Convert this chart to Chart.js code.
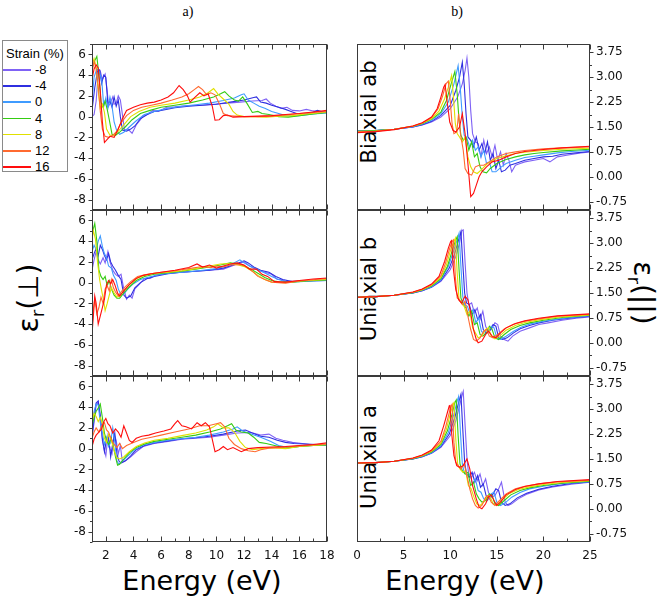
<!DOCTYPE html>
<html><head><meta charset="utf-8">
<script src="https://cdn.jsdelivr.net/npm/chart.js@4"></script>
<style>
body{margin:0;background:#fff;width:661px;height:599px;position:relative;overflow:hidden;font-family:"DejaVu Sans",sans-serif;color:#000}
canvas{position:absolute;left:0;top:0}
.t{position:absolute;white-space:nowrap;line-height:1}
.rot{transform:translate(-50%,-50%) rotate(-90deg)}
.rotr{transform:translate(-50%,-50%) rotate(90deg)}
.ctr{transform:translate(-50%,-50%)}
#legend{position:absolute;left:2px;top:40px;width:66px;height:132px;border:1px solid #8a8a8a;box-sizing:border-box;background:#fff}
#legend .ttl{position:absolute;left:3px;top:5px;font:13px "Liberation Sans",sans-serif}
#legend .row{position:absolute;left:0;height:14px;width:64px}
#legend .ln{position:absolute;left:0;top:7px;width:28px;height:1.5px}
#legend .lab{position:absolute;left:32px;top:0;font:13px "Liberation Sans",sans-serif}
</style></head><body>
<div id="legend"><div class="ttl">Strain (%)</div></div>
<div class="t ctr" style="left:188px;top:12px;font:14px 'Liberation Serif',serif">a)</div>
<div class="t ctr" style="left:457px;top:12px;font:14px 'Liberation Serif',serif">b)</div>
<div class="t ctr" style="left:202px;top:580px;font-size:27px">Energy (eV)</div>
<div class="t ctr" style="left:465px;top:580px;font-size:27px">Energy (eV)</div>
<div class="t rot" style="left:31px;top:298px;font-size:28px">ε<sub style="font-size:18px">r</sub>(⊥)</div>
<div class="t rotr" style="left:641px;top:293px;font-size:28px">ε<sub style="font-size:18px">r</sub>(||)</div>
<div class="t rot" style="left:369px;top:112px;font-size:21px">Biaxial ab</div>
<div class="t rot" style="left:369px;top:289px;font-size:21px">Uniaxial b</div>
<div class="t rot" style="left:369px;top:457px;font-size:21px">Uniaxial a</div>
<script>
// ---------------- DATA ----------------
const strains = [-8, -4, 0, 4, 8, 12, 16];
const leftXTicks = [2, 4, 6, 8, 10, 12, 14, 16, 18];
const leftYTicks = [-8, -6, -4, -2, 0, 2, 4, 6];
const rightXTicks = [0, 5, 10, 15, 20, 25];
const rightYTicks = [-0.75, 0, 0.75, 1.5, 2.25, 3, 3.75];
const panelNames = ['Biaxial ab', 'Uniaxial b', 'Uniaxial a'];

// eps_r(perp), biaxial ab strain; curves in order of strains
const perpBiaxialAB = [
 [[1.0,0.0],[1.15,0.2],[1.3,1.5],[1.45,4.2],[1.6,4.4],[1.75,3.6],[1.95,4.1],[2.1,2.5],[2.2,1.0],[2.35,1.4],[2.5,1.9],[2.6,1.2],[2.75,1.3],[2.9,2.0],[3.05,1.6],[3.2,0.2],[3.35,-1.3],[3.6,-1.2],[3.9,-1.6],[4.2,-0.8],[4.5,-0.3],[4.7,0.1],[5.0,0.2],[5.4,0.6],[5.8,0.5],[6.4,0.9],[7.0,0.95],[7.8,1.05],[8.8,1.1],[9.8,1.2],[10.8,1.3],[11.7,1.4],[12.6,1.5],[13.3,1.55],[13.6,1.7],[13.9,1.3],[14.3,1.0],[14.7,0.8],[15.1,0.9],[15.5,0.6],[16,0.55],[16.5,0.7],[17,0.55],[17.5,0.5],[18,0.4]],
 [[1.0,0.6],[1.2,2.8],[1.4,4.4],[1.55,4.5],[1.7,3.2],[1.85,4.0],[2.0,3.8],[2.15,1.2],[2.3,1.5],[2.45,0.9],[2.6,1.9],[2.75,1.0],[2.9,1.6],[3.05,0.0],[3.2,-1.3],[3.5,-1.4],[3.8,-1.2],[4.1,-0.9],[4.5,-0.2],[5.0,0.2],[5.5,0.5],[6,0.6],[7,0.85],[8,1.0],[9,1.1],[10,1.2],[11,1.4],[12,1.6],[12.7,1.85],[12.9,1.9],[13.2,1.4],[13.6,1.3],[14,1.1],[14.5,0.9],[15,0.7],[15.4,0.5],[15.8,0.3],[16.3,0.2],[16.8,0.3],[17.3,0.6],[18,0.35]],
 [[1.0,1.5],[1.15,3.8],[1.35,4.6],[1.5,4.4],[1.7,3.6],[1.85,1.0],[2.0,1.8],[2.15,0.8],[2.3,1.9],[2.45,1.0],[2.6,-0.5],[2.8,-1.4],[3.0,-1.7],[3.3,-1.5],[3.7,-1.0],[4.2,-0.4],[4.8,0.2],[5.5,0.5],[6.5,0.8],[7.5,1.0],[8.5,1.15],[9.5,1.3],[10.5,1.55],[11.3,1.8],[11.8,2.1],[12.0,2.2],[12.3,1.6],[12.7,1.3],[13.1,1.0],[13.5,0.8],[14,0.5],[14.5,0.3],[15,0.1],[15.5,0.05],[16,0.1],[17,0.25],[18,0.35]],
 [[1.0,4.6],[1.2,5.4],[1.35,5.8],[1.5,4.0],[1.65,1.4],[1.8,0.9],[1.95,1.5],[2.1,0.7],[2.25,-0.3],[2.45,-1.7],[2.7,-1.8],[3.0,-1.5],[3.4,-1.0],[3.9,-0.3],[4.5,0.3],[5.2,0.6],[6,0.9],[7,1.1],[8,1.3],[9,1.6],[9.8,1.9],[10.3,2.2],[10.6,2.4],[10.9,2.0],[11.3,1.6],[11.6,1.5],[11.9,1.9],[12.2,1.3],[12.6,0.4],[13.0,0.5],[13.3,0.3],[13.8,0.2],[14.5,0.0],[15.2,-0.05],[16,0.1],[17,0.25],[18,0.4]],
 [[1.0,4.9],[1.15,5.6],[1.3,4.8],[1.45,2.5],[1.6,0.8],[1.75,1.2],[1.9,0.4],[2.05,-1.2],[2.3,-1.8],[2.6,-1.8],[2.9,-1.4],[3.3,-0.8],[3.8,0.0],[4.4,0.5],[5.2,0.9],[6,1.1],[7,1.3],[8,1.6],[8.8,1.9],[9.4,2.3],[9.8,2.7],[10.1,2.2],[10.5,1.7],[10.9,1.2],[11.2,0.5],[11.5,0.15],[12,0.0],[12.8,0.0],[13.6,-0.05],[14.5,0.05],[15.5,0.1],[16.5,0.25],[18,0.45]],
 [[1.0,4.3],[1.15,5.3],[1.3,4.6],[1.45,3.0],[1.6,0.5],[1.75,-1.2],[1.95,-1.9],[2.2,-2.0],[2.5,-1.8],[2.8,-1.4],[3.1,-0.6],[3.5,0.1],[4.0,0.6],[4.6,0.9],[5.3,1.1],[6.0,1.3],[6.8,1.6],[7.5,1.9],[8.0,2.2],[8.4,2.6],[8.7,2.9],[9.0,2.6],[9.3,2.1],[9.6,2.3],[9.9,2.1],[10.2,1.3],[10.5,0.3],[10.8,0.1],[11.3,0.05],[12,0.0],[13,0.0],[14,0.05],[15,0.15],[16,0.3],[17,0.4],[18,0.5]],
 [[1.0,3.6],[1.15,4.6],[1.3,5.0],[1.45,4.7],[1.6,2.5],[1.75,-0.5],[1.9,-2.5],[2.1,-2.2],[2.3,-1.9],[2.6,-2.0],[2.9,-1.2],[3.2,-0.2],[3.5,0.6],[4.0,0.9],[4.5,1.15],[5.0,1.3],[5.5,1.4],[6.0,1.6],[6.5,1.9],[6.9,2.3],[7.3,3.0],[7.6,2.6],[7.9,2.0],[8.1,1.4],[8.4,1.8],[8.8,2.3],[9.1,2.0],[9.4,2.2],[9.7,1.0],[9.9,-0.35],[10.2,-0.3],[10.5,0.1],[10.8,0.15],[11.2,-0.05],[12,0.0],[13,0.05],[14,0.1],[15,0.2],[16,0.3],[17,0.45],[18,0.6]]
];
// eps_r(perp), uniaxial b strain
const perpUniaxialB = [
 [[1.0,1.2],[1.15,2.2],[1.3,3.0],[1.45,2.2],[1.6,1.8],[1.8,2.4],[1.95,1.9],[2.15,3.0],[2.3,2.0],[2.5,1.2],[2.7,0.8],[2.9,0.6],[3.1,0.8],[3.3,-0.6],[3.5,-1.6],[3.7,-1.2],[3.9,-1.5],[4.1,-0.6],[4.4,-0.2],[4.8,0.4],[5.2,0.4],[5.6,0.7],[6.5,0.9],[7.5,1.0],[8.5,1.1],[9.5,1.2],[10.5,1.3],[11.5,1.8],[12.0,2.0],[12.4,1.6],[13.0,1.2],[13.5,1.0],[14.0,0.8],[14.4,0.3],[14.7,0.3],[15.0,0.1],[16,0.15],[17,0.2],[18,0.2]],
 [[1.0,2.2],[1.15,2.8],[1.3,3.3],[1.45,2.6],[1.6,3.6],[1.75,3.2],[1.9,2.6],[2.05,2.2],[2.2,2.8],[2.35,2.0],[2.5,1.6],[2.7,1.2],[2.9,0.7],[3.1,0.3],[3.3,-1.2],[3.5,-1.5],[3.8,-1.3],[4.1,-0.5],[4.5,0.0],[5.0,0.4],[5.5,0.6],[6.5,0.85],[7.5,1.0],[8.5,1.1],[9.5,1.2],[10.5,1.4],[11.4,1.8],[12.0,2.1],[12.3,1.9],[12.7,1.5],[13.2,1.2],[13.8,1.0],[14.3,0.6],[14.8,0.3],[15.5,0.1],[16.5,0.15],[18,0.2]],
 [[1.0,3.0],[1.15,3.6],[1.3,3.2],[1.45,4.0],[1.6,4.5],[1.75,3.5],[1.9,2.8],[2.05,2.4],[2.2,1.6],[2.4,1.4],[2.55,0.7],[2.75,0.2],[2.9,-0.6],[3.1,-1.2],[3.3,-1.1],[3.6,-0.6],[4.0,-0.1],[4.5,0.3],[5.0,0.5],[6,0.8],[7,0.95],[8,1.05],[9,1.2],[10,1.35],[11,1.7],[11.7,2.2],[12.0,1.9],[12.4,1.6],[12.9,1.3],[13.4,1.0],[14,0.6],[14.5,0.3],[15,0.1],[16,0.1],[17,0.15],[18,0.2]],
 [[1.0,4.4],[1.1,5.2],[1.2,5.7],[1.35,4.0],[1.5,1.2],[1.65,0.6],[1.8,0.3],[1.95,0.6],[2.1,-0.3],[2.25,0.2],[2.4,-0.6],[2.6,-1.2],[2.8,-1.5],[3.0,-1.5],[3.3,-1.0],[3.7,-0.4],[4.2,0.2],[4.8,0.6],[5.5,0.8],[6.5,0.95],[7.5,1.1],[8.5,1.3],[9.5,1.5],[10.3,1.7],[11,1.9],[11.6,1.8],[12.0,1.6],[12.5,1.3],[13,0.9],[13.5,0.5],[14,0.2],[14.6,0.05],[15.5,0.05],[16.5,0.15],[18,0.25]],
 [[1.0,4.2],[1.1,5.0],[1.25,4.2],[1.4,2.0],[1.55,0.3],[1.7,-0.8],[1.85,-1.8],[1.95,-2.7],[2.1,-2.0],[2.25,-1.2],[2.4,-0.5],[2.6,-1.0],[2.8,-1.4],[3.0,-1.3],[3.3,-0.8],[3.7,-0.2],[4.2,0.4],[4.8,0.7],[5.5,0.9],[6.5,1.0],[7.5,1.15],[8.5,1.35],[9.5,1.6],[10.3,1.8],[11,1.85],[11.6,1.7],[12.1,1.5],[12.6,1.1],[13,0.7],[13.5,0.3],[14,0.05],[15,0.0],[16,0.15],[18,0.3]],
 [[1.0,-4.4],[1.1,-2.5],[1.2,-1.6],[1.35,-3.0],[1.5,-2.4],[1.65,-1.4],[1.8,-2.0],[1.95,-0.6],[2.1,-0.3],[2.25,-0.8],[2.4,0.3],[2.55,-0.5],[2.7,-0.9],[2.9,-1.3],[3.1,-0.9],[3.4,-0.4],[3.8,0.1],[4.3,0.6],[5,0.8],[6,1.0],[7,1.15],[8,1.35],[9,1.55],[9.6,1.45],[10,1.6],[10.5,1.5],[11,1.7],[11.8,1.75],[12.2,1.5],[12.6,1.1],[13,0.6],[13.5,0.3],[14,0.05],[15,-0.05],[16,0.15],[18,0.4]],
 [[1.0,-5.0],[1.1,-3.2],[1.2,-1.3],[1.3,-2.0],[1.45,-4.0],[1.6,-3.2],[1.75,-2.4],[1.9,-1.6],[2.05,-0.2],[2.2,0.2],[2.35,-0.1],[2.5,0.3],[2.65,-0.2],[2.85,-1.0],[3.0,-1.3],[3.3,-0.8],[3.7,-0.2],[4.2,0.4],[4.7,0.7],[5.3,0.85],[6,1.0],[7,1.2],[8,1.45],[8.6,1.8],[9.0,1.5],[9.5,1.7],[10,1.4],[10.5,1.6],[11,1.8],[11.5,1.9],[12,1.7],[12.4,1.3],[12.9,1.3],[13.3,0.8],[13.7,0.6],[14.2,0.1],[15,0.05],[16,0.2],[17,0.35],[18,0.45]]
];
// eps_r(perp), uniaxial a strain
const perpUniaxialA = [
 [[1.0,1.2],[1.15,2.5],[1.3,4.2],[1.45,4.5],[1.6,3.0],[1.75,0.8],[1.9,-0.2],[2.0,-0.7],[2.15,1.2],[2.3,0.0],[2.45,-0.5],[2.6,1.4],[2.75,0.8],[2.9,-0.5],[3.05,0.3],[3.2,-1.3],[3.5,-1.1],[3.8,-0.8],[4.2,-0.3],[4.7,0.2],[5.5,0.5],[6.5,0.7],[7.5,0.9],[8.5,1.0],[9.5,1.1],[10.5,1.3],[11.5,1.5],[12.5,1.55],[13.2,1.3],[13.8,1.4],[14.3,1.0],[14.8,0.8],[15.5,0.6],[16.2,0.5],[17,0.35],[18,0.3]],
 [[1.0,1.0],[1.15,3.0],[1.3,4.4],[1.45,4.6],[1.6,3.2],[1.75,1.0],[1.9,-0.3],[2.05,0.9],[2.2,1.1],[2.35,-0.8],[2.5,0.5],[2.65,1.5],[2.8,-0.5],[2.95,-1.2],[3.1,-1.4],[3.4,-1.2],[3.8,-0.7],[4.2,-0.1],[4.8,0.3],[5.5,0.55],[6.5,0.75],[7.5,0.95],[8.5,1.05],[9.5,1.2],[10.5,1.4],[11.5,1.7],[12.1,1.8],[12.6,1.5],[13.2,1.2],[13.8,1.1],[14.4,0.8],[15,0.6],[15.6,0.5],[16.5,0.45],[18,0.35]],
 [[1.0,1.8],[1.15,3.6],[1.3,4.3],[1.45,4.2],[1.6,2.5],[1.75,1.5],[1.9,0.4],[2.05,1.1],[2.2,0.2],[2.35,0.6],[2.5,2.0],[2.65,0.6],[2.8,-1.2],[2.95,-1.5],[3.2,-1.2],[3.6,-0.7],[4.1,-0.1],[4.7,0.35],[5.5,0.6],[6.5,0.8],[7.5,0.95],[8.5,1.1],[9.5,1.3],[10.5,1.6],[11.2,1.9],[11.5,2.1],[11.9,1.7],[12.5,1.4],[13.2,1.1],[13.9,0.7],[14.5,0.3],[15.2,0.1],[16,0.2],[17,0.3],[18,0.3]],
 [[1.0,2.2],[1.15,3.0],[1.3,3.6],[1.45,3.9],[1.6,4.3],[1.75,3.0],[1.9,1.5],[2.05,0.8],[2.2,0.4],[2.4,1.0],[2.55,0.2],[2.7,-0.8],[2.85,-1.6],[3.0,-1.5],[3.3,-1.0],[3.7,-0.4],[4.2,0.1],[4.8,0.45],[5.5,0.7],[6.5,0.9],[7.5,1.1],[8.5,1.3],[9.5,1.6],[10.3,1.9],[10.8,2.2],[11.1,2.4],[11.4,1.8],[11.8,1.6],[12.3,1.5],[12.7,1.1],[13.1,0.6],[13.6,0.5],[14.2,0.3],[15,0.05],[16,0.2],[17,0.3],[18,0.35]],
 [[1.0,2.6],[1.15,3.4],[1.3,3.1],[1.45,2.6],[1.6,3.0],[1.75,2.4],[1.9,1.0],[2.05,0.6],[2.2,1.4],[2.4,0.8],[2.6,-0.2],[2.8,-0.9],[3.0,-1.0],[3.3,-0.8],[3.7,-0.3],[4.2,0.2],[4.8,0.55],[5.5,0.8],[6.5,1.0],[7.5,1.25],[8.5,1.5],[9.3,1.8],[9.8,2.1],[10.1,2.4],[10.5,2.0],[10.9,2.0],[11.3,1.6],[11.7,0.7],[12.1,0.1],[12.6,-0.1],[13.2,0.0],[14,0.1],[15,0.0],[16,0.2],[17,0.3],[18,0.4]],
 [[1.0,1.0],[1.15,1.6],[1.3,2.0],[1.5,1.6],[1.7,2.2],[1.9,2.5],[2.05,1.8],[2.2,1.6],[2.4,0.9],[2.6,0.4],[2.8,0.1],[3.0,0.5],[3.2,0.0],[3.5,0.3],[4.0,0.6],[4.6,0.9],[5.3,1.1],[6,1.3],[7,1.6],[8,1.9],[8.8,2.2],[9.4,2.2],[10.0,2.4],[10.3,2.5],[10.6,2.1],[10.9,1.0],[11.3,0.4],[11.8,0.0],[12.3,-0.2],[12.8,-0.3],[13.2,-0.1],[13.8,0.05],[14.5,0.1],[15.5,0.2],[16.5,0.3],[18,0.45]],
 [[1.0,0.2],[1.15,0.9],[1.3,1.3],[1.5,1.6],[1.7,1.9],[1.85,2.6],[2.0,2.9],[2.15,2.4],[2.3,2.2],[2.5,1.5],[2.7,1.9],[2.9,1.6],[3.1,1.1],[3.3,2.2],[3.5,1.5],[3.7,0.8],[3.9,0.6],[4.2,1.0],[4.6,1.2],[5.1,1.3],[5.6,1.5],[6.2,1.7],[6.7,1.9],[7.0,2.4],[7.2,2.7],[7.5,2.2],[7.8,2.1],[8.2,1.9],[8.6,2.5],[8.9,2.2],[9.2,2.5],[9.5,2.1],[9.7,0.9],[9.9,-0.3],[10.2,-0.1],[10.5,0.2],[10.8,-0.1],[11.2,0.1],[11.8,-0.3],[12.3,0.0],[13,0.1],[14,0.15],[15,0.2],[16,0.3],[17,0.4],[18,0.55]]
];
// eps_r(parallel), biaxial ab strain
const parBiaxialAB = [
 [[0,1.38],[2,1.39],[4,1.43],[6,1.5],[7,1.56],[8,1.65],[9,1.8],[10,2.05],[10.8,2.4],[11.3,2.8],[11.6,3.2],[11.8,3.58],[12.0,3.0],[12.2,2.0],[12.4,1.3],[12.7,1.05],[13.0,1.0],[13.3,0.6],[13.6,1.1],[13.9,0.7],[14.2,0.9],[14.5,0.6],[14.8,0.95],[15.1,0.5],[15.4,0.75],[15.7,0.35],[16.0,0.7],[16.3,0.5],[16.6,0.15],[17,0.35],[17.5,0.4],[18,0.45],[19,0.5],[20,0.55],[20.7,0.45],[21.5,0.6],[22.5,0.65],[24,0.72],[25,0.75]],
 [[0,1.38],[2,1.39],[4,1.43],[6,1.5],[7,1.57],[8,1.67],[9,1.85],[10,2.15],[10.6,2.6],[11.0,3.0],[11.3,3.45],[11.5,2.8],[11.7,1.9],[11.9,1.2],[12.2,1.1],[12.5,0.9],[12.8,1.2],[13.1,0.8],[13.4,1.0],[13.7,0.7],[14.0,1.05],[14.3,0.5],[14.6,0.7],[14.9,0.25],[15.2,0.5],[15.5,0.15],[15.9,0.2],[16.4,0.35],[17,0.4],[18,0.5],[19,0.55],[20,0.6],[21,0.62],[22,0.68],[23.5,0.72],[25,0.76]],
 [[0,1.37],[2,1.39],[4,1.43],[6,1.51],[7,1.59],[8,1.7],[9,1.9],[9.8,2.25],[10.4,2.8],[10.85,3.35],[11.1,2.6],[11.3,1.8],[11.5,1.25],[11.8,1.15],[12.1,0.9],[12.4,1.1],[12.7,0.8],[13.0,0.9],[13.3,0.6],[13.6,0.8],[13.9,0.4],[14.2,0.45],[14.5,0.15],[14.9,0.15],[15.5,0.3],[16,0.4],[17,0.5],[18,0.58],[19,0.62],[20,0.66],[21.5,0.72],[23,0.76],[25,0.8]],
 [[0,1.37],[2,1.39],[4,1.43],[6,1.52],[7,1.6],[8,1.73],[9,1.95],[9.6,2.3],[10.1,2.8],[10.5,3.17],[10.75,2.5],[10.95,1.7],[11.15,1.25],[11.4,1.1],[11.7,1.2],[12.0,0.8],[12.3,1.05],[12.6,0.6],[12.9,0.7],[13.2,0.3],[13.5,0.15],[13.9,0.12],[14.3,0.25],[15,0.4],[16,0.52],[17,0.6],[18,0.66],[19,0.7],[20,0.73],[22,0.78],[25,0.83]],
 [[0,1.36],[2,1.38],[4,1.43],[6,1.52],[7,1.61],[8,1.75],[8.8,1.98],[9.4,2.35],[9.8,2.7],[10.15,3.05],[10.35,2.4],[10.55,1.6],[10.75,1.3],[11.0,1.2],[11.3,1.05],[11.6,1.2],[11.9,0.6],[12.2,0.3],[12.5,0.15],[12.9,0.1],[13.3,0.2],[14,0.4],[15,0.55],[16,0.63],[17,0.7],[18,0.74],[20,0.79],[22,0.83],[25,0.86]],
 [[0,1.35],[2,1.37],[4,1.43],[6,1.53],[7,1.62],[8,1.78],[8.7,2.05],[9.2,2.45],[9.55,2.8],[9.8,2.88],[10.0,2.3],[10.2,1.6],[10.4,1.3],[10.7,1.35],[10.9,1.9],[11.1,1.3],[11.4,0.8],[11.6,0.25],[11.9,0.1],[12.3,0.05],[12.7,0.3],[13.1,0.35],[13.6,0.35],[14.2,0.45],[15,0.6],[16,0.7],[17,0.75],[18,0.79],[20,0.84],[22,0.87],[25,0.9]],
 [[0,1.33],[2,1.36],[4,1.42],[6,1.53],[7,1.63],[8,1.8],[8.6,2.05],[9.0,2.4],[9.3,2.7],[9.45,2.78],[9.7,2.2],[9.95,1.65],[10.3,1.4],[10.6,1.35],[11.0,1.5],[11.3,1.9],[11.6,1.3],[11.9,0.4],[12.2,-0.6],[12.5,-0.5],[12.8,-0.25],[13.1,0.0],[13.4,0.15],[13.9,0.3],[14.5,0.45],[15.2,0.5],[16,0.6],[17,0.7],[18,0.76],[20,0.82],[22,0.87],[25,0.92]]
];
// eps_r(parallel), uniaxial b strain
const parUniaxialB = [
 [[0,1.37],[2,1.39],[4,1.43],[6,1.5],[7,1.57],[8,1.67],[9,1.85],[10,2.2],[10.6,2.6],[11.0,3.0],[11.25,3.38],[11.4,3.4],[11.6,2.4],[11.8,1.5],[12.0,1.15],[12.3,1.2],[12.6,0.9],[12.9,1.05],[13.2,0.7],[13.5,0.95],[13.8,0.5],[14.1,0.35],[14.4,0.4],[14.8,0.6],[15.1,0.55],[15.4,0.2],[15.8,0.1],[16.2,0.05],[16.7,0.2],[17.5,0.35],[18.5,0.45],[19.5,0.55],[20.5,0.6],[22,0.68],[23.5,0.74],[25,0.78]],
 [[0,1.37],[2,1.39],[4,1.43],[6,1.5],[7,1.57],[8,1.68],[9,1.87],[9.9,2.25],[10.5,2.7],[10.9,3.1],[11.15,3.35],[11.35,2.4],[11.55,1.5],[11.75,1.2],[12.05,1.15],[12.35,0.85],[12.65,1.0],[12.95,0.7],[13.25,0.85],[13.55,0.4],[13.85,0.3],[14.2,0.35],[14.6,0.55],[14.9,0.5],[15.2,0.15],[15.6,0.1],[16.1,0.15],[16.8,0.3],[17.5,0.42],[18.5,0.52],[19.5,0.6],[21,0.68],[23,0.75],[25,0.8]],
 [[0,1.37],[2,1.39],[4,1.43],[6,1.51],[7,1.58],[8,1.69],[9,1.9],[9.8,2.3],[10.4,2.8],[10.8,3.15],[10.95,3.3],[11.15,2.3],[11.35,1.4],[11.55,1.15],[11.85,1.1],[12.15,0.85],[12.45,1.0],[12.75,0.6],[13.05,0.75],[13.35,0.35],[13.7,0.25],[14.0,0.3],[14.4,0.5],[14.7,0.45],[15.0,0.15],[15.4,0.1],[16,0.2],[16.8,0.35],[17.6,0.47],[18.6,0.57],[20,0.65],[22,0.73],[25,0.82]],
 [[0,1.37],[2,1.39],[4,1.43],[6,1.51],[7,1.59],[8,1.71],[9,1.93],[9.7,2.3],[10.3,2.85],[10.6,3.1],[10.75,3.2],[10.95,2.2],[11.15,1.35],[11.4,1.15],[11.7,1.05],[12.0,0.8],[12.3,0.95],[12.6,0.55],[12.9,0.6],[13.2,0.25],[13.5,0.2],[13.9,0.3],[14.2,0.5],[14.5,0.4],[14.8,0.15],[15.2,0.1],[15.8,0.25],[16.5,0.4],[17.5,0.52],[18.5,0.6],[20,0.68],[22,0.76],[25,0.83]],
 [[0,1.37],[2,1.39],[4,1.43],[6,1.52],[7,1.6],[8,1.73],[9,1.97],[9.6,2.35],[10.1,2.85],[10.4,3.05],[10.55,3.15],[10.75,2.1],[10.95,1.3],[11.2,1.2],[11.5,1.1],[11.8,0.85],[12.1,0.95],[12.4,0.45],[12.7,0.3],[13.0,0.15],[13.4,0.2],[13.8,0.4],[14.1,0.45],[14.4,0.2],[14.8,0.12],[15.3,0.2],[16,0.38],[17,0.52],[18,0.61],[19.5,0.69],[21.5,0.77],[25,0.84]],
 [[0,1.37],[2,1.39],[4,1.43],[6,1.52],[7,1.61],[8,1.75],[9,2.02],[9.5,2.4],[9.95,2.85],[10.2,3.05],[10.35,3.1],[10.55,2.0],[10.75,1.35],[11.0,1.3],[11.3,1.15],[11.6,1.25],[11.9,0.8],[12.2,0.4],[12.5,0.1],[12.8,0.05],[13.2,0.15],[13.6,0.35],[13.9,0.4],[14.2,0.2],[14.6,0.15],[15.1,0.25],[15.8,0.42],[16.8,0.56],[18,0.65],[19.5,0.72],[21.5,0.8],[25,0.86]],
 [[0,1.37],[2,1.39],[4,1.43],[6,1.53],[7,1.62],[8,1.77],[8.8,2.0],[9.4,2.45],[9.8,2.85],[10.05,3.05],[10.15,3.08],[10.35,2.2],[10.6,1.6],[10.9,1.3],[11.2,1.2],[11.6,1.4],[11.9,1.3],[12.2,0.9],[12.5,0.4],[12.8,0.1],[13.0,0.0],[13.4,0.05],[13.8,0.25],[14.1,0.35],[14.5,0.2],[14.9,0.15],[15.4,0.3],[16,0.45],[17,0.58],[18,0.66],[19.5,0.74],[21.5,0.81],[25,0.87]]
];
// eps_r(parallel), uniaxial a strain
const parUniaxialA = [
 [[0,1.38],[2,1.39],[4,1.43],[6,1.5],[7,1.57],[8,1.67],[9,1.85],[10,2.2],[10.6,2.65],[11.0,3.1],[11.3,3.45],[11.4,3.54],[11.6,2.5],[11.8,1.5],[12.0,1.0],[12.3,0.95],[12.6,1.1],[12.9,0.85],[13.2,1.05],[13.5,0.7],[13.8,0.9],[14.1,0.5],[14.4,0.35],[14.8,0.4],[15.2,0.6],[15.5,0.8],[15.7,0.5],[15.9,0.2],[16.2,0.1],[16.6,0.15],[17.3,0.3],[18.3,0.45],[19.5,0.57],[21,0.66],[23,0.74],[25,0.8]],
 [[0,1.38],[2,1.39],[4,1.43],[6,1.5],[7,1.57],[8,1.68],[9,1.87],[9.9,2.25],[10.5,2.75],[10.9,3.2],[11.15,3.45],[11.35,2.4],[11.55,1.4],[11.75,1.05],[12.05,0.95],[12.35,1.1],[12.65,0.8],[12.95,1.0],[13.25,0.65],[13.55,0.75],[13.85,0.4],[14.2,0.3],[14.6,0.45],[14.9,0.6],[15.2,0.55],[15.5,0.2],[15.9,0.1],[16.4,0.15],[17.2,0.33],[18.2,0.47],[19.5,0.59],[21,0.68],[23,0.76],[25,0.81]],
 [[0,1.38],[2,1.39],[4,1.43],[6,1.51],[7,1.58],[8,1.69],[9,1.9],[9.8,2.3],[10.4,2.85],[10.75,3.25],[10.9,3.38],[11.1,2.3],[11.3,1.35],[11.5,1.1],[11.8,1.0],[12.1,1.05],[12.4,0.75],[12.7,0.9],[13.0,0.55],[13.3,0.5],[13.6,0.3],[14.0,0.25],[14.4,0.45],[14.7,0.5],[15.0,0.2],[15.4,0.1],[15.9,0.18],[16.6,0.35],[17.5,0.49],[18.5,0.6],[20,0.68],[22,0.76],[25,0.82]],
 [[0,1.38],[2,1.39],[4,1.43],[6,1.51],[7,1.59],[8,1.71],[9,1.94],[9.7,2.35],[10.2,2.85],[10.5,3.2],[10.65,3.28],[10.85,2.2],[11.05,1.35],[11.3,1.15],[11.6,1.05],[11.9,1.1],[12.2,0.7],[12.5,0.8],[12.8,0.45],[13.1,0.3],[13.4,0.2],[13.8,0.25],[14.2,0.45],[14.5,0.4],[14.8,0.15],[15.2,0.1],[15.8,0.25],[16.5,0.42],[17.5,0.55],[18.5,0.63],[20,0.7],[22,0.77],[25,0.83]],
 [[0,1.38],[2,1.39],[4,1.43],[6,1.52],[7,1.6],[8,1.73],[9,1.98],[9.6,2.4],[10.0,2.85],[10.3,3.15],[10.4,3.2],[10.6,2.1],[10.8,1.35],[11.05,1.2],[11.35,1.1],[11.65,1.15],[11.95,0.7],[12.25,0.6],[12.55,0.35],[12.85,0.15],[13.2,0.1],[13.6,0.2],[14.0,0.4],[14.3,0.35],[14.6,0.15],[15.0,0.1],[15.5,0.25],[16.3,0.45],[17.3,0.58],[18.5,0.66],[20,0.73],[22,0.79],[25,0.85]],
 [[0,1.38],[2,1.39],[4,1.43],[6,1.52],[7,1.61],[8,1.75],[9,2.03],[9.5,2.45],[9.9,2.9],[10.1,3.1],[10.2,3.15],[10.4,2.0],[10.6,1.4],[10.85,1.3],[11.15,1.2],[11.5,1.35],[11.8,1.0],[12.1,0.6],[12.4,0.3],[12.7,0.1],[13.0,0.02],[13.4,0.1],[13.8,0.35],[14.1,0.4],[14.4,0.2],[14.8,0.1],[15.3,0.25],[16,0.45],[17,0.6],[18,0.68],[19.5,0.75],[21.5,0.81],[25,0.86]],
 [[0,1.38],[2,1.39],[4,1.43],[6,1.53],[7,1.62],[8,1.77],[8.8,2.05],[9.3,2.5],[9.7,2.9],[9.9,3.1],[9.97,3.13],[10.15,2.3],[10.4,1.6],[10.7,1.3],[11.0,1.25],[11.4,1.3],[11.8,1.5],[12.1,1.2],[12.4,0.7],[12.8,0.3],[13.1,0.05],[13.4,0.0],[13.8,0.15],[14.1,0.35],[14.4,0.42],[14.7,0.25],[15.0,0.1],[15.4,0.2],[16,0.42],[17,0.58],[18,0.67],[19.5,0.75],[21.5,0.82],[25,0.88]]
];

// ---------------- STYLE ----------------
const strainColors = ['#7f62f5', '#2f2fe0', '#3f9bff', '#35cc12', '#e0e000', '#ff6a30', '#ff0d0d'];

// legend (HTML, from strains / strainColors)
const lg = document.getElementById('legend');
strains.forEach((s, i) => {
  const row = document.createElement('div');
  row.className = 'row';
  row.style.top = (21 + i * 16.2) + 'px';
  row.innerHTML = '<div class="ln" style="background:' + strainColors[i] + '"></div><div class="lab">' + s + '</div>';
  lg.appendChild(row);
});

const frameTicks = {
  id: 'frameTicks',
  afterDatasetsDraw(chart, args, o) {
    const {ctx, chartArea: a, scales} = chart;
    const x = scales.x, y = scales.y;
    ctx.save();
    ctx.strokeStyle = '#3a3a3a';
    ctx.lineWidth = 1;
    const L = Math.round(a.left) + 0.5, R = Math.round(a.right) - 0.5;
    const T = Math.round(a.top) + 0.5, B = Math.round(a.bottom) - 0.5;
    ctx.strokeRect(L, T, R - L, B - T);
    ctx.beginPath();
    const xs = o.xTicks, ys = o.yTicks;
    const xStep = xs[1] - xs[0], yStep = ys[1] - ys[0];
    const xAll = [], yAll = [];
    for (let v = xs[0] - xStep; v <= xs[xs.length - 1] + xStep; v += xStep / 2) xAll.push([v, xs.some(t => Math.abs(t - v) < 1e-6)]);
    for (let v = ys[0] - yStep; v <= ys[ys.length - 1] + yStep; v += yStep / 2) yAll.push([v, ys.some(t => Math.abs(t - v) < 1e-6)]);
    xAll.forEach(([v, major]) => {
      if (v < x.min - 1e-9 || v > x.max + 1e-9) return;
      const px = Math.round(x.getPixelForValue(v)) + 0.5;
      const len = major ? 5 : 3;
      ctx.moveTo(px, B); ctx.lineTo(px, B - len);
      ctx.moveTo(px, T); ctx.lineTo(px, T + len);
    });
    yAll.forEach(([v, major]) => {
      if (v < y.min - 1e-9 || v > y.max + 1e-9) return;
      const py = Math.round(y.getPixelForValue(v)) + 0.5;
      const len = major ? 4 : 2.5;
      if (o.ySide === 'left') { ctx.moveTo(L, py); ctx.lineTo(L - len, py); }
      else { ctx.moveTo(R, py); ctx.lineTo(R + len, py); }
    });
    ctx.stroke();
    ctx.restore();
  }
};

const tickFont = {family: 'DejaVu Sans', size: 12};
const W = 661, H = 599;
const rowTop = [44, 210, 376], rowH = 166;
const leftArea = [92, 327], rightArea = [357, 590];

const panels = [
  {data: perpBiaxialAB, side: 'left', row: 0},
  {data: perpUniaxialB, side: 'left', row: 1},
  {data: perpUniaxialA, side: 'left', row: 2},
  {data: parBiaxialAB, side: 'right', row: 0},
  {data: parUniaxialB, side: 'right', row: 1},
  {data: parUniaxialA, side: 'right', row: 2}
];

panels.forEach((p, k) => {
  const cv = document.createElement('canvas');
  cv.width = W; cv.height = H;
  document.body.appendChild(cv);
  const isLeft = p.side === 'left';
  const area = isLeft ? leftArea : rightArea;
  const top = rowTop[p.row], bottom = top + rowH;
  const xH = p.row === 2 ? 30 : 0;
  const yW = isLeft ? 28 : 38;
  const pad = isLeft
    ? {left: area[0] - yW, right: W - area[1], top: top, bottom: H - bottom - xH}
    : {left: area[0], right: W - area[1] - yW, top: top, bottom: H - bottom - xH};
  const xTicks = isLeft ? leftXTicks : rightXTicks;
  const yTicks = isLeft ? leftYTicks : rightYTicks;
  new Chart(cv, {
    type: 'line',
    data: {
      datasets: p.data.map((pts, i) => ({
        label: String(strains[i]),
        data: pts,
        borderColor: strainColors[i],
        backgroundColor: strainColors[i],
        borderWidth: 1.1,
        pointRadius: 0,
        tension: 0,
        fill: false,
        order: strains.length - 1 - i
      }))
    },
    options: {
      responsive: false,
      animation: false,
      devicePixelRatio: 1,
      layout: {padding: pad},
      plugins: {
        legend: {display: false},
        tooltip: {enabled: false},
        frameTicks: {xTicks: xTicks, yTicks: yTicks, ySide: isLeft ? 'left' : 'right'}
      },
      scales: {
        x: {
          type: 'linear',
          position: 'bottom',
          min: isLeft ? 1 : 0,
          max: isLeft ? 18 : 25,
          afterBuildTicks: s => { s.ticks = xTicks.map(v => ({value: v})); },
          afterFit: s => { s.height = xH; },
          grid: {display: false, drawTicks: false},
          border: {display: false},
          ticks: {display: p.row === 2, font: tickFont, color: '#111', padding: 7, maxRotation: 0, autoSkip: false,
                  callback: v => String(v)}
        },
        y: {
          type: 'linear',
          position: isLeft ? 'left' : 'right',
          min: isLeft ? -9 : -1,
          max: isLeft ? 7 : 4,
          afterBuildTicks: s => { s.ticks = yTicks.map(v => ({value: v})); },
          afterFit: s => { s.width = yW; },
          grid: {display: false, drawTicks: false},
          border: {display: false},
          ticks: {font: tickFont, color: '#111', padding: 6, autoSkip: false,
                  callback: v => isLeft ? String(v) : v.toFixed(2)}
        }
      }
    },
    plugins: [frameTicks]
  });
});
</script>
</body></html>
